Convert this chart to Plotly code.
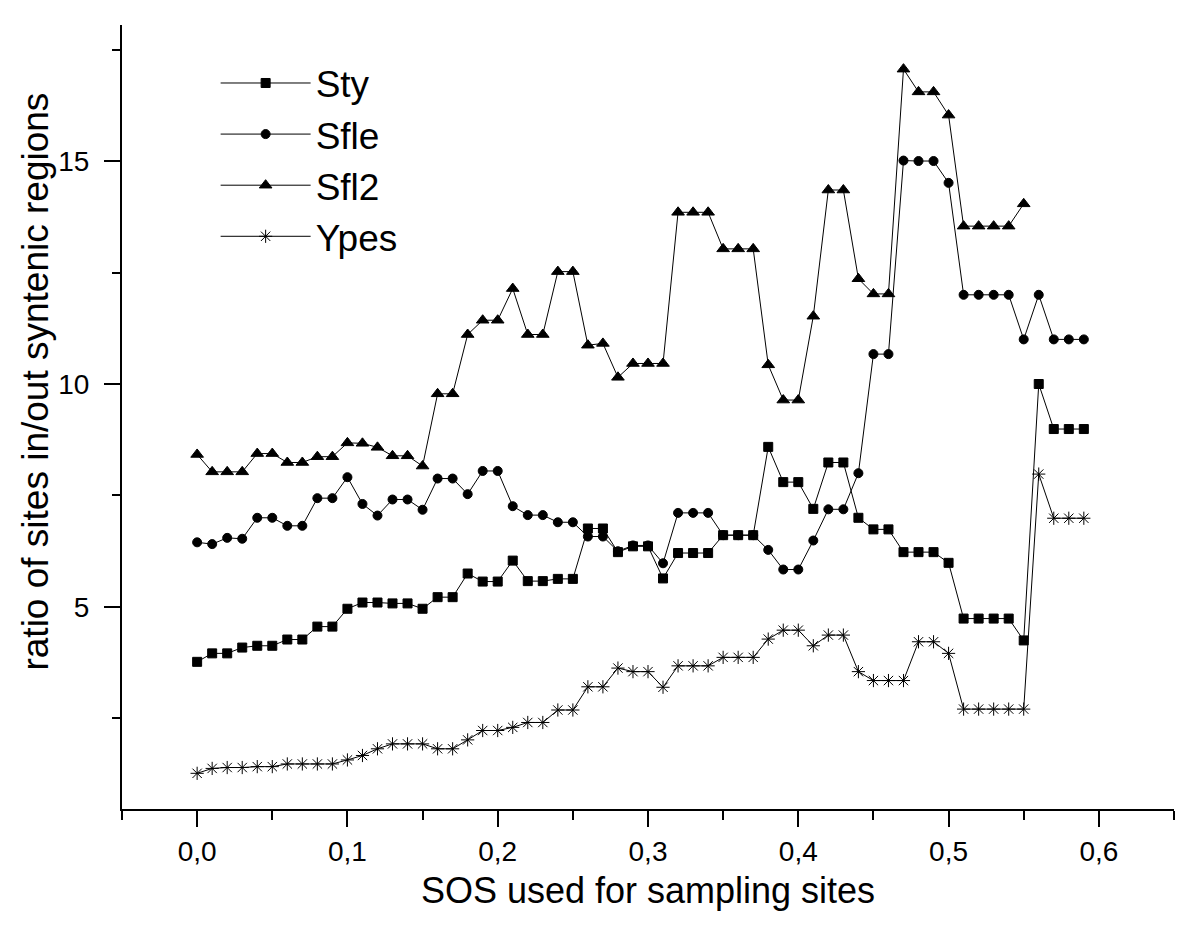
import plotly.graph_objects as go

# ---- data ----
sos = [0.00, 0.01, 0.02, 0.03, 0.04, 0.05, 0.06, 0.07, 0.08, 0.09,
       0.10, 0.11, 0.12, 0.13, 0.14, 0.15, 0.16, 0.17, 0.18, 0.19,
       0.20, 0.21, 0.22, 0.23, 0.24, 0.25, 0.26, 0.27, 0.28, 0.29,
       0.30, 0.31, 0.32, 0.33, 0.34, 0.35, 0.36, 0.37, 0.38, 0.39,
       0.40, 0.41, 0.42, 0.43, 0.44, 0.45, 0.46, 0.47, 0.48, 0.49,
       0.50, 0.51, 0.52, 0.53, 0.54, 0.55, 0.56, 0.57, 0.58, 0.59]

sty = [3.77, 3.96, 3.96, 4.09, 4.13, 4.13, 4.27, 4.27, 4.56, 4.56,
       4.96, 5.10, 5.10, 5.08, 5.08, 4.96, 5.22, 5.22, 5.75, 5.57,
       5.57, 6.04, 5.58, 5.58, 5.63, 5.63, 6.76, 6.76, 6.23, 6.36,
       6.36, 5.64, 6.21, 6.21, 6.21, 6.61, 6.61, 6.61, 8.59, 7.80,
       7.80, 7.20, 8.24, 8.24, 7.00, 6.74, 6.74, 6.23, 6.23, 6.23,
       5.99, 4.74, 4.74, 4.74, 4.74, 4.25, 10.00, 8.99, 8.99, 8.99]

sfle = [6.45, 6.41, 6.55, 6.53, 7.00, 7.00, 6.82, 6.82, 7.44, 7.44,
        7.91, 7.31, 7.05, 7.41, 7.41, 7.18, 7.88, 7.88, 7.53, 8.05,
        8.05, 7.26, 7.06, 7.06, 6.90, 6.90, 6.58, 6.58, 6.25, 6.38,
        6.38, 5.98, 7.11, 7.11, 7.11, 6.61, 6.61, 6.61, 6.28, 5.84,
        5.84, 6.49, 7.19, 7.19, 8.00, 10.67, 10.67, 15.01, 15.00, 15.00,
        14.51, 12.00, 12.00, 12.00, 12.00, 11.00, 12.00, 11.00, 11.00, 11.00]

sos_sfl2 = sos[:56]
sfl2 = [8.42, 8.03, 8.03, 8.03, 8.44, 8.44, 8.24, 8.24, 8.37, 8.37,
        8.68, 8.67, 8.58, 8.39, 8.39, 8.16, 9.78, 9.78, 11.11, 11.43,
        11.43, 12.14, 11.11, 11.11, 12.52, 12.52, 10.87, 10.91, 10.15, 10.46,
        10.46, 10.46, 13.85, 13.85, 13.85, 13.03, 13.03, 13.03, 10.43, 9.64,
        9.64, 11.52, 14.35, 14.35, 12.36, 12.02, 12.02, 17.06, 16.55, 16.55,
        16.03, 13.54, 13.54, 13.54, 13.54, 14.04]

ypes = [1.27, 1.38, 1.40, 1.40, 1.42, 1.42, 1.48, 1.48, 1.48, 1.48,
        1.57, 1.67, 1.82, 1.93, 1.93, 1.93, 1.82, 1.82, 2.02, 2.23,
        2.23, 2.30, 2.41, 2.41, 2.69, 2.69, 3.21, 3.21, 3.63, 3.55,
        3.55, 3.20, 3.68, 3.68, 3.68, 3.87, 3.87, 3.87, 4.28, 4.48,
        4.48, 4.13, 4.37, 4.37, 3.55, 3.35, 3.35, 3.35, 4.22, 4.22,
        3.96, 2.71, 2.71, 2.71, 2.71, 2.71, 7.98, 6.99, 6.99, 6.99]

x_tickvals = [0.0, 0.1, 0.2, 0.3, 0.4, 0.5, 0.6]
x_ticktext = ["0,0", "0,1", "0,2", "0,3", "0,4", "0,5", "0,6"]
x_minorvals = [-0.05, 0.05, 0.15, 0.25, 0.35, 0.45, 0.55, 0.65]
y_tickvals = [5, 10, 15]
y_ticktext = ["5", "10", "15"]
y_minorvals = [2.5, 7.5, 12.5, 17.5]

x_title = "SOS used for sampling sites"
y_title = "ratio of sites in/out syntenic regions"

FONT = "Liberation Sans, Arial, sans-serif"

fig = go.Figure()
series = [
    ("Sty", sos, sty, "square", 9),
    ("Sfle", sos, sfle, "circle", 9),
    ("Sfl2", sos_sfl2, sfl2, "triangle-up", 11),
    ("Ypes", sos, ypes, "asterisk-open", 11),
]
for name, xs, ys, sym, sz in series:
    fig.add_trace(go.Scatter(
        x=xs, y=ys, name=name, mode="lines+markers",
        line=dict(color="black", width=1),
        marker=dict(symbol=sym, size=sz, color="black",
                    line=dict(color="black", width=1)),
    ))

axis_common = dict(
    showline=True, linecolor="black", linewidth=2,
    ticks="outside", tickcolor="black", tickwidth=2, ticklen=16,
    showgrid=False, zeroline=False, mirror=False,
    tickfont=dict(family=FONT, size=28, color="black"),
)

fig.update_xaxes(
    range=[-0.05, 0.65], tickmode="array",
    tickvals=x_tickvals, ticktext=x_ticktext,
    minor=dict(tickmode="array", tickvals=x_minorvals, ticks="outside",
               ticklen=9, tickwidth=2, tickcolor="black", showgrid=False),
    title=dict(text=x_title,
               font=dict(family=FONT, size=36, color="black"), standoff=12),
    **axis_common,
)
fig.update_yaxes(
    range=[0.47, 18.05], tickmode="array",
    tickvals=y_tickvals, ticktext=y_ticktext,
    minor=dict(tickmode="array", tickvals=y_minorvals, ticks="outside",
               ticklen=8, tickwidth=2, tickcolor="black", showgrid=False),
    ticklabelstandoff=9,
    **axis_common,
)

# y-axis title placed as a rotated text annotation (sits above plot centre, like the reference)
fig.add_annotation(
    text=y_title, xref="paper", yref="paper", x=0, y=0.5446,
    xanchor="left", yanchor="middle", xshift=-109, textangle=-90,
    showarrow=False, font=dict(family=FONT, size=37, color="black"),
)

fig.update_layout(
    width=1192, height=919,
    margin=dict(l=114, r=26, t=17, b=118, autoexpand=False),
    paper_bgcolor="white", plot_bgcolor="white",
    showlegend=True,
    legend=dict(
        x=0.089, y=0.965, xanchor="left", yanchor="top",
        bgcolor="rgba(0,0,0,0)", borderwidth=0,
        font=dict(family=FONT, size=37, color="black"),
        itemwidth=90, tracegroupgap=0,
    ),
)

fig.write_html("out.html")
